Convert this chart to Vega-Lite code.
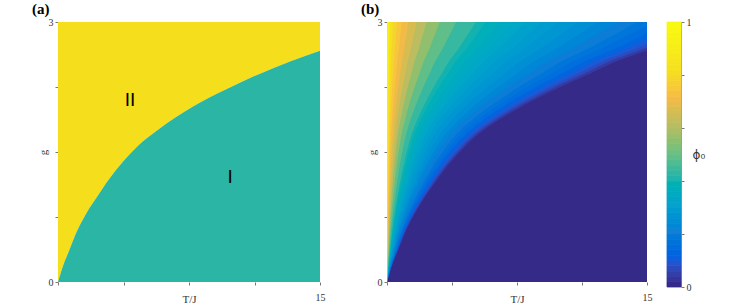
{
 "$schema": "https://vega.github.io/schema/vega-lite/v6.json",
 "background": "white",
 "padding": {"left": 32, "top": 2, "right": 5, "bottom": 2},
 "bounds": "flush",
 "spacing": 67,
 "config": {
  "view": {"stroke": null},
  "axis": {"labelFont": "Liberation Serif", "labelFontSize": 10, "labelColor": "#333", "titleFont": "Liberation Serif", "titleFontSize": 11, "titleFontWeight": "normal", "titleColor": "#333", "tickColor": "#777", "tickSize": 3, "domain": false, "grid": false, "labelPadding": 2, "labelFlush": false},
  "title": {"font": "Liberation Serif", "fontSize": 15, "fontWeight": "bold", "anchor": "start", "frame": "group", "color": "#000"}
 },
 "datasets": {
  "boundary": [{"T":0,"g":0},{"T":0.27,"g":0.177},{"T":0.65,"g":0.369},{"T":1.03,"g":0.562},{"T":1.41,"g":0.715},{"T":1.79,"g":0.85},{"T":2.18,"g":0.966},{"T":2.75,"g":1.139},{"T":3.32,"g":1.292},{"T":3.89,"g":1.427},{"T":4.85,"g":1.62},{"T":5.84,"g":1.775},{"T":7.73,"g":2.026},{"T":9.66,"g":2.227},{"T":11.56,"g":2.404},{"T":13.28,"g":2.545},{"T":15,"g":2.669}],
  "labels": [{"T":4.12,"g":2.1,"lab":"II"},{"T":9.85,"g":1.21,"lab":"I"}],
  "bands": [
   {"p":0,"g":0,"T":15},{"p":0,"g":3,"T":15},
   {"p":0.032,"g":0,"T":0},{"p":0.032,"g":0.18,"T":0.27},{"p":0.032,"g":0.37,"T":0.65},{"p":0.032,"g":0.56,"T":1.03},{"p":0.032,"g":0.85,"T":1.79},{"p":0.032,"g":1.14,"T":2.75},{"p":0.032,"g":1.43,"T":3.89},{"p":0.032,"g":1.79,"T":5.84},{"p":0.032,"g":2.02,"T":7.73},{"p":0.032,"g":2.22,"T":9.7},{"p":0.032,"g":2.39,"T":11.56},{"p":0.032,"g":2.55,"T":13.3},{"p":0.032,"g":2.67,"T":15},{"p":0.032,"g":2.8,"T":16.6},{"p":0.032,"g":3,"T":19},
   {"p":0.064,"g":0,"T":0},{"p":0.064,"g":0.18,"T":0.262},{"p":0.064,"g":0.37,"T":0.631},{"p":0.064,"g":0.56,"T":0.999},{"p":0.064,"g":0.85,"T":1.736},{"p":0.064,"g":1.14,"T":2.668},{"p":0.064,"g":1.43,"T":3.773},{"p":0.064,"g":1.79,"T":5.665},{"p":0.064,"g":2.02,"T":7.498},{"p":0.064,"g":2.22,"T":9.409},{"p":0.064,"g":2.39,"T":11.213},{"p":0.064,"g":2.55,"T":12.901},{"p":0.064,"g":2.67,"T":14.55},{"p":0.064,"g":2.8,"T":16.102},{"p":0.064,"g":3,"T":18.43},
   {"p":0.091,"g":0,"T":0},{"p":0.091,"g":0.18,"T":0.254},{"p":0.091,"g":0.37,"T":0.611},{"p":0.091,"g":0.56,"T":0.968},{"p":0.091,"g":0.85,"T":1.683},{"p":0.091,"g":1.14,"T":2.585},{"p":0.091,"g":1.43,"T":3.657},{"p":0.091,"g":1.79,"T":5.49},{"p":0.091,"g":2.02,"T":7.266},{"p":0.091,"g":2.22,"T":9.118},{"p":0.091,"g":2.39,"T":10.866},{"p":0.091,"g":2.55,"T":12.502},{"p":0.091,"g":2.67,"T":14.1},{"p":0.091,"g":2.8,"T":15.604},{"p":0.091,"g":3,"T":17.86},
   {"p":0.12,"g":0,"T":0},{"p":0.12,"g":0.18,"T":0.243},{"p":0.12,"g":0.37,"T":0.585},{"p":0.12,"g":0.56,"T":0.927},{"p":0.12,"g":0.85,"T":1.611},{"p":0.12,"g":1.14,"T":2.475},{"p":0.12,"g":1.43,"T":3.501},{"p":0.12,"g":1.79,"T":5.256},{"p":0.12,"g":2.02,"T":6.957},{"p":0.12,"g":2.22,"T":8.73},{"p":0.12,"g":2.39,"T":10.404},{"p":0.12,"g":2.55,"T":11.97},{"p":0.12,"g":2.67,"T":13.5},{"p":0.12,"g":2.8,"T":14.94},{"p":0.12,"g":3,"T":17.1},
   {"p":0.144,"g":0,"T":0},{"p":0.144,"g":0.18,"T":0.232},{"p":0.144,"g":0.37,"T":0.559},{"p":0.144,"g":0.56,"T":0.886},{"p":0.144,"g":0.85,"T":1.539},{"p":0.144,"g":1.14,"T":2.365},{"p":0.144,"g":1.43,"T":3.345},{"p":0.144,"g":1.79,"T":5.022},{"p":0.144,"g":2.02,"T":6.648},{"p":0.144,"g":2.22,"T":8.342},{"p":0.144,"g":2.39,"T":9.942},{"p":0.144,"g":2.55,"T":11.438},{"p":0.144,"g":2.67,"T":12.9},{"p":0.144,"g":2.8,"T":14.276},{"p":0.144,"g":3,"T":16.34},
   {"p":0.169,"g":0,"T":0},{"p":0.169,"g":0.18,"T":0.219},{"p":0.169,"g":0.37,"T":0.527},{"p":0.169,"g":0.56,"T":0.834},{"p":0.169,"g":0.85,"T":1.45},{"p":0.169,"g":1.14,"T":2.228},{"p":0.169,"g":1.43,"T":3.151},{"p":0.169,"g":1.79,"T":4.73},{"p":0.169,"g":2.02,"T":6.261},{"p":0.169,"g":2.22,"T":7.857},{"p":0.169,"g":2.39,"T":9.364},{"p":0.169,"g":2.55,"T":10.773},{"p":0.169,"g":2.67,"T":12.15},{"p":0.169,"g":2.8,"T":13.446},{"p":0.169,"g":3,"T":15.39},
   {"p":0.192,"g":0,"T":0},{"p":0.192,"g":0.18,"T":0.205},{"p":0.192,"g":0.37,"T":0.494},{"p":0.192,"g":0.56,"T":0.783},{"p":0.192,"g":0.85,"T":1.36},{"p":0.192,"g":1.14,"T":2.09},{"p":0.192,"g":1.43,"T":2.956},{"p":0.192,"g":1.79,"T":4.438},{"p":0.192,"g":2.02,"T":5.875},{"p":0.192,"g":2.22,"T":7.372},{"p":0.192,"g":2.39,"T":8.786},{"p":0.192,"g":2.55,"T":10.108},{"p":0.192,"g":2.67,"T":11.4},{"p":0.192,"g":2.8,"T":12.616},{"p":0.192,"g":3,"T":14.44},
   {"p":0.218,"g":0,"T":0},{"p":0.218,"g":0.18,"T":0.189},{"p":0.218,"g":0.37,"T":0.455},{"p":0.218,"g":0.56,"T":0.721},{"p":0.218,"g":0.85,"T":1.253},{"p":0.218,"g":1.14,"T":1.925},{"p":0.218,"g":1.43,"T":2.723},{"p":0.218,"g":1.79,"T":4.088},{"p":0.218,"g":2.02,"T":5.411},{"p":0.218,"g":2.22,"T":6.79},{"p":0.218,"g":2.39,"T":8.092},{"p":0.218,"g":2.55,"T":9.31},{"p":0.218,"g":2.67,"T":10.5},{"p":0.218,"g":2.8,"T":11.62},{"p":0.218,"g":3,"T":13.3},
   {"p":0.244,"g":0,"T":0},{"p":0.244,"g":0.18,"T":0.173},{"p":0.244,"g":0.37,"T":0.416},{"p":0.244,"g":0.56,"T":0.659},{"p":0.244,"g":0.85,"T":1.146},{"p":0.244,"g":1.14,"T":1.76},{"p":0.244,"g":1.43,"T":2.49},{"p":0.244,"g":1.79,"T":3.738},{"p":0.244,"g":2.02,"T":4.947},{"p":0.244,"g":2.22,"T":6.208},{"p":0.244,"g":2.39,"T":7.398},{"p":0.244,"g":2.55,"T":8.512},{"p":0.244,"g":2.67,"T":9.6},{"p":0.244,"g":2.8,"T":10.624},{"p":0.244,"g":3,"T":12.16},
   {"p":0.265,"g":0,"T":0},{"p":0.265,"g":0.18,"T":0.157},{"p":0.265,"g":0.37,"T":0.377},{"p":0.265,"g":0.56,"T":0.597},{"p":0.265,"g":0.85,"T":1.038},{"p":0.265,"g":1.14,"T":1.595},{"p":0.265,"g":1.43,"T":2.256},{"p":0.265,"g":1.79,"T":3.387},{"p":0.265,"g":2.02,"T":4.483},{"p":0.265,"g":2.22,"T":5.626},{"p":0.265,"g":2.39,"T":6.705},{"p":0.265,"g":2.55,"T":7.714},{"p":0.265,"g":2.67,"T":8.7},{"p":0.265,"g":2.8,"T":9.628},{"p":0.265,"g":3,"T":11.02},
   {"p":0.284,"g":0,"T":0},{"p":0.284,"g":0.18,"T":0.14},{"p":0.284,"g":0.37,"T":0.338},{"p":0.284,"g":0.56,"T":0.536},{"p":0.284,"g":0.85,"T":0.931},{"p":0.284,"g":1.14,"T":1.43},{"p":0.284,"g":1.43,"T":2.023},{"p":0.284,"g":1.79,"T":3.037},{"p":0.284,"g":2.02,"T":4.02},{"p":0.284,"g":2.22,"T":5.044},{"p":0.284,"g":2.39,"T":6.011},{"p":0.284,"g":2.55,"T":6.916},{"p":0.284,"g":2.67,"T":7.8},{"p":0.284,"g":2.8,"T":8.632},{"p":0.284,"g":3,"T":9.88},
   {"p":0.306,"g":0,"T":0},{"p":0.306,"g":0.18,"T":0.127},{"p":0.306,"g":0.37,"T":0.306},{"p":0.306,"g":0.56,"T":0.484},{"p":0.306,"g":0.85,"T":0.841},{"p":0.306,"g":1.14,"T":1.293},{"p":0.306,"g":1.43,"T":1.828},{"p":0.306,"g":1.79,"T":2.745},{"p":0.306,"g":2.02,"T":3.633},{"p":0.306,"g":2.22,"T":4.559},{"p":0.306,"g":2.39,"T":5.433},{"p":0.306,"g":2.55,"T":6.251},{"p":0.306,"g":2.67,"T":7.05},{"p":0.306,"g":2.8,"T":7.802},{"p":0.306,"g":3,"T":8.93},
   {"p":0.325,"g":0,"T":0},{"p":0.325,"g":0.18,"T":0.113},{"p":0.325,"g":0.37,"T":0.273},{"p":0.325,"g":0.56,"T":0.433},{"p":0.325,"g":0.85,"T":0.752},{"p":0.325,"g":1.14,"T":1.155},{"p":0.325,"g":1.43,"T":1.634},{"p":0.325,"g":1.79,"T":2.453},{"p":0.325,"g":2.02,"T":3.247},{"p":0.325,"g":2.22,"T":4.074},{"p":0.325,"g":2.39,"T":4.855},{"p":0.325,"g":2.55,"T":5.586},{"p":0.325,"g":2.67,"T":6.3},{"p":0.325,"g":2.8,"T":6.972},{"p":0.325,"g":3,"T":7.98},
   {"p":0.345,"g":0,"T":0},{"p":0.345,"g":0.18,"T":0.103},{"p":0.345,"g":0.37,"T":0.247},{"p":0.345,"g":0.56,"T":0.391},{"p":0.345,"g":0.85,"T":0.68},{"p":0.345,"g":1.14,"T":1.045},{"p":0.345,"g":1.43,"T":1.478},{"p":0.345,"g":1.79,"T":2.219},{"p":0.345,"g":2.02,"T":2.937},{"p":0.345,"g":2.22,"T":3.686},{"p":0.345,"g":2.39,"T":4.393},{"p":0.345,"g":2.55,"T":5.054},{"p":0.345,"g":2.67,"T":5.7},{"p":0.345,"g":2.8,"T":6.308},{"p":0.345,"g":3,"T":7.22},
   {"p":0.366,"g":0,"T":0},{"p":0.366,"g":0.18,"T":0.092},{"p":0.366,"g":0.37,"T":0.221},{"p":0.366,"g":0.56,"T":0.35},{"p":0.366,"g":0.85,"T":0.609},{"p":0.366,"g":1.14,"T":0.935},{"p":0.366,"g":1.43,"T":1.323},{"p":0.366,"g":1.79,"T":1.986},{"p":0.366,"g":2.02,"T":2.628},{"p":0.366,"g":2.22,"T":3.298},{"p":0.366,"g":2.39,"T":3.93},{"p":0.366,"g":2.55,"T":4.522},{"p":0.366,"g":2.67,"T":5.1},{"p":0.366,"g":2.8,"T":5.644},{"p":0.366,"g":3,"T":6.46},
   {"p":0.389,"g":0,"T":0},{"p":0.389,"g":0.18,"T":0.081},{"p":0.389,"g":0.37,"T":0.195},{"p":0.389,"g":0.56,"T":0.309},{"p":0.389,"g":0.85,"T":0.537},{"p":0.389,"g":1.14,"T":0.825},{"p":0.389,"g":1.43,"T":1.167},{"p":0.389,"g":1.79,"T":1.752},{"p":0.389,"g":2.02,"T":2.319},{"p":0.389,"g":2.22,"T":2.91},{"p":0.389,"g":2.39,"T":3.468},{"p":0.389,"g":2.55,"T":3.99},{"p":0.389,"g":2.67,"T":4.5},{"p":0.389,"g":2.8,"T":4.98},{"p":0.389,"g":3,"T":5.7},
   {"p":0.427,"g":0,"T":0},{"p":0.427,"g":0.18,"T":0.073},{"p":0.427,"g":0.37,"T":0.176},{"p":0.427,"g":0.56,"T":0.278},{"p":0.427,"g":0.85,"T":0.483},{"p":0.427,"g":1.14,"T":0.743},{"p":0.427,"g":1.43,"T":1.05},{"p":0.427,"g":1.79,"T":1.577},{"p":0.427,"g":2.02,"T":2.087},{"p":0.427,"g":2.22,"T":2.619},{"p":0.427,"g":2.39,"T":3.121},{"p":0.427,"g":2.55,"T":3.591},{"p":0.427,"g":2.67,"T":4.05},{"p":0.427,"g":2.8,"T":4.482},{"p":0.427,"g":3,"T":5.13},
   {"p":0.482,"g":0,"T":0},{"p":0.482,"g":0.18,"T":0.057},{"p":0.482,"g":0.37,"T":0.137},{"p":0.482,"g":0.56,"T":0.216},{"p":0.482,"g":0.85,"T":0.376},{"p":0.482,"g":1.14,"T":0.578},{"p":0.482,"g":1.43,"T":0.817},{"p":0.482,"g":1.79,"T":1.226},{"p":0.482,"g":2.02,"T":1.623},{"p":0.482,"g":2.22,"T":2.037},{"p":0.482,"g":2.39,"T":2.428},{"p":0.482,"g":2.55,"T":2.793},{"p":0.482,"g":2.67,"T":3.15},{"p":0.482,"g":2.8,"T":3.486},{"p":0.482,"g":3,"T":3.99},
   {"p":0.547,"g":0,"T":0},{"p":0.547,"g":0.18,"T":0.043},{"p":0.547,"g":0.37,"T":0.104},{"p":0.547,"g":0.56,"T":0.165},{"p":0.547,"g":0.85,"T":0.286},{"p":0.547,"g":1.14,"T":0.44},{"p":0.547,"g":1.43,"T":0.622},{"p":0.547,"g":1.79,"T":0.934},{"p":0.547,"g":2.02,"T":1.237},{"p":0.547,"g":2.22,"T":1.552},{"p":0.547,"g":2.39,"T":1.85},{"p":0.547,"g":2.55,"T":2.128},{"p":0.547,"g":2.67,"T":2.4},{"p":0.547,"g":2.8,"T":2.656},{"p":0.547,"g":3,"T":3.04},
   {"p":0.607,"g":0,"T":0},{"p":0.607,"g":0.18,"T":0.032},{"p":0.607,"g":0.37,"T":0.078},{"p":0.607,"g":0.56,"T":0.124},{"p":0.607,"g":0.85,"T":0.215},{"p":0.607,"g":1.14,"T":0.33},{"p":0.607,"g":1.43,"T":0.467},{"p":0.607,"g":1.79,"T":0.701},{"p":0.607,"g":2.02,"T":0.928},{"p":0.607,"g":2.22,"T":1.164},{"p":0.607,"g":2.39,"T":1.387},{"p":0.607,"g":2.55,"T":1.596},{"p":0.607,"g":2.67,"T":1.8},{"p":0.607,"g":2.8,"T":1.992},{"p":0.607,"g":3,"T":2.28},
   {"p":0.654,"g":0,"T":0},{"p":0.654,"g":0.18,"T":0.024},{"p":0.654,"g":0.37,"T":0.059},{"p":0.654,"g":0.56,"T":0.093},{"p":0.654,"g":0.85,"T":0.161},{"p":0.654,"g":1.14,"T":0.248},{"p":0.654,"g":1.43,"T":0.35},{"p":0.654,"g":1.79,"T":0.526},{"p":0.654,"g":2.02,"T":0.696},{"p":0.654,"g":2.22,"T":0.873},{"p":0.654,"g":2.39,"T":1.04},{"p":0.654,"g":2.55,"T":1.197},{"p":0.654,"g":2.67,"T":1.35},{"p":0.654,"g":2.8,"T":1.494},{"p":0.654,"g":3,"T":1.71},
   {"p":0.697,"g":0,"T":0},{"p":0.697,"g":0.18,"T":0.018},{"p":0.697,"g":0.37,"T":0.042},{"p":0.697,"g":0.56,"T":0.067},{"p":0.697,"g":0.85,"T":0.116},{"p":0.697,"g":1.14,"T":0.179},{"p":0.697,"g":1.43,"T":0.253},{"p":0.697,"g":1.79,"T":0.38},{"p":0.697,"g":2.02,"T":0.502},{"p":0.697,"g":2.22,"T":0.631},{"p":0.697,"g":2.39,"T":0.751},{"p":0.697,"g":2.55,"T":0.865},{"p":0.697,"g":2.67,"T":0.975},{"p":0.697,"g":2.8,"T":1.079},{"p":0.697,"g":3,"T":1.235},
   {"p":0.735,"g":0,"T":0},{"p":0.735,"g":0.18,"T":0.012},{"p":0.735,"g":0.37,"T":0.029},{"p":0.735,"g":0.56,"T":0.046},{"p":0.735,"g":0.85,"T":0.081},{"p":0.735,"g":1.14,"T":0.124},{"p":0.735,"g":1.43,"T":0.175},{"p":0.735,"g":1.79,"T":0.263},{"p":0.735,"g":2.02,"T":0.348},{"p":0.735,"g":2.22,"T":0.437},{"p":0.735,"g":2.39,"T":0.52},{"p":0.735,"g":2.55,"T":0.599},{"p":0.735,"g":2.67,"T":0.675},{"p":0.735,"g":2.8,"T":0.747},{"p":0.735,"g":3,"T":0.855},
   {"p":0.774,"g":0,"T":0},{"p":0.774,"g":0.18,"T":0.008},{"p":0.774,"g":0.37,"T":0.02},{"p":0.774,"g":0.56,"T":0.031},{"p":0.774,"g":0.85,"T":0.054},{"p":0.774,"g":1.14,"T":0.083},{"p":0.774,"g":1.43,"T":0.117},{"p":0.774,"g":1.79,"T":0.175},{"p":0.774,"g":2.02,"T":0.232},{"p":0.774,"g":2.22,"T":0.291},{"p":0.774,"g":2.39,"T":0.347},{"p":0.774,"g":2.55,"T":0.399},{"p":0.774,"g":2.67,"T":0.45},{"p":0.774,"g":2.8,"T":0.498},{"p":0.774,"g":3,"T":0.57},
   {"p":0.816,"g":0,"T":0},{"p":0.816,"g":0.18,"T":0.005},{"p":0.816,"g":0.37,"T":0.012},{"p":0.816,"g":0.56,"T":0.019},{"p":0.816,"g":0.85,"T":0.032},{"p":0.816,"g":1.14,"T":0.05},{"p":0.816,"g":1.43,"T":0.07},{"p":0.816,"g":1.79,"T":0.105},{"p":0.816,"g":2.02,"T":0.139},{"p":0.816,"g":2.22,"T":0.175},{"p":0.816,"g":2.39,"T":0.208},{"p":0.816,"g":2.55,"T":0.239},{"p":0.816,"g":2.67,"T":0.27},{"p":0.816,"g":2.8,"T":0.299},{"p":0.816,"g":3,"T":0.342},
   {"p":0.9,"g":0,"T":0},{"p":0.9,"g":0.18,"T":0.002},{"p":0.9,"g":0.37,"T":0.005},{"p":0.9,"g":0.56,"T":0.008},{"p":0.9,"g":0.85,"T":0.014},{"p":0.9,"g":1.14,"T":0.022},{"p":0.9,"g":1.43,"T":0.031},{"p":0.9,"g":1.79,"T":0.047},{"p":0.9,"g":2.02,"T":0.062},{"p":0.9,"g":2.22,"T":0.078},{"p":0.9,"g":2.39,"T":0.092},{"p":0.9,"g":2.55,"T":0.106},{"p":0.9,"g":2.67,"T":0.12},{"p":0.9,"g":2.8,"T":0.133},{"p":0.9,"g":3,"T":0.152}
  ],
  "cbar": [{"v":0,"v2":0.02},{"v":0.02,"v2":0.04},{"v":0.04,"v2":0.06},{"v":0.06,"v2":0.08},{"v":0.08,"v2":0.1},{"v":0.1,"v2":0.12},{"v":0.12,"v2":0.14},{"v":0.14,"v2":0.16},{"v":0.16,"v2":0.18},{"v":0.18,"v2":0.2},{"v":0.2,"v2":0.22},{"v":0.22,"v2":0.24},{"v":0.24,"v2":0.26},{"v":0.26,"v2":0.28},{"v":0.28,"v2":0.3},{"v":0.3,"v2":0.32},{"v":0.32,"v2":0.34},{"v":0.34,"v2":0.36},{"v":0.36,"v2":0.38},{"v":0.38,"v2":0.4},{"v":0.4,"v2":0.42},{"v":0.42,"v2":0.44},{"v":0.44,"v2":0.46},{"v":0.46,"v2":0.48},{"v":0.48,"v2":0.5},{"v":0.5,"v2":0.52},{"v":0.52,"v2":0.54},{"v":0.54,"v2":0.56},{"v":0.56,"v2":0.58},{"v":0.58,"v2":0.6},{"v":0.6,"v2":0.62},{"v":0.62,"v2":0.64},{"v":0.64,"v2":0.66},{"v":0.66,"v2":0.68},{"v":0.68,"v2":0.7},{"v":0.7,"v2":0.72},{"v":0.72,"v2":0.74},{"v":0.74,"v2":0.76},{"v":0.76,"v2":0.78},{"v":0.78,"v2":0.8},{"v":0.8,"v2":0.82},{"v":0.82,"v2":0.84},{"v":0.84,"v2":0.86},{"v":0.86,"v2":0.88},{"v":0.88,"v2":0.9},{"v":0.9,"v2":0.92},{"v":0.92,"v2":0.94},{"v":0.94,"v2":0.96},{"v":0.96,"v2":0.98},{"v":0.98,"v2":1}]
 },
 "hconcat": [
  {
   "width": 262, "height": 260,
   "title": {"text": "(a)", "dx": -26, "offset": 0},
   "data": {"name": "boundary"},
   "layer": [
    {"mark": {"type": "area", "color": "#f5df1d", "clip": true, "interpolate": "monotone"},
     "encoding": {
      "x": {"field": "T", "type": "quantitative", "scale": {"domain": [0, 15], "nice": false, "zero": false},
            "axis": {"values": [0, 3.75, 7.5, 11.25, 15], "labelExpr": "datum.value == 15 ? '15' : ''", "title": "T/J", "labelPadding": 7, "titlePadding": -9}},
      "y": {"field": "g", "type": "quantitative", "scale": {"domain": [0, 3], "nice": false},
            "axis": {"values": [0, 0.75, 1.5, 2.25, 3], "labelExpr": "datum.value == 0 ? '0' : datum.value == 3 ? '3' : ''", "title": "g", "titlePadding": 0}},
      "y2": {"datum": 3}
     }},
    {"mark": {"type": "area", "color": "#2bb5a4", "clip": true, "interpolate": "monotone"},
     "encoding": {
      "x": {"field": "T", "type": "quantitative"},
      "y": {"field": "g", "type": "quantitative"},
      "y2": {"datum": 0}
     }},
    {"data": {"name": "labels"},
     "mark": {"type": "text", "font": "Liberation Sans", "fontSize": 19, "color": "#000", "align": "center", "baseline": "middle"},
     "encoding": {
      "x": {"field": "T", "type": "quantitative"},
      "y": {"field": "g", "type": "quantitative"},
      "text": {"field": "lab"}
     }}
   ]
  },
  {
   "bounds": "flush",
   "spacing": 20,
   "hconcat": [
    {
     "width": 260, "height": 260,
     "title": {"text": "(b)", "dx": -26, "offset": 0},
     "data": {"name": "bands"},
     "mark": {"type": "area", "orient": "horizontal", "clip": true, "interpolate": "monotone"},
     "encoding": {
      "y": {"field": "g", "type": "quantitative", "scale": {"domain": [0, 3], "nice": false},
            "axis": {"values": [0, 0.75, 1.5, 2.25, 3], "labelExpr": "datum.value == 0 ? '0' : datum.value == 3 ? '3' : ''", "title": "g", "titlePadding": 0}},
      "x": {"field": "T", "type": "quantitative", "stack": null, "scale": {"domain": [0, 15], "nice": false, "zero": false},
            "axis": {"values": [0, 3.75, 7.5, 11.25, 15], "labelExpr": "datum.value == 15 ? '15' : ''", "title": "T/J", "labelPadding": 7, "titlePadding": -9}},
      "x2": {"datum": 0},
      "color": {"field": "p", "type": "quantitative", "legend": null,
                "scale": {"domain": [0, 1], "range": ["#352a87", "#0a5fdf", "#137fd6", "#06a1cd", "#21b4ac", "#6ebf81", "#b9bd62", "#f4ba47", "#f5de21", "#f7ee18", "#f9fb0e"]}},
      "detail": {"field": "p", "type": "quantitative"}
     }
    },
    {
     "width": 14, "height": 265,
     "data": {"name": "cbar"},
     "mark": {"type": "rect", "strokeWidth": 0.8},
     "encoding": {
      "y": {"field": "v", "type": "quantitative", "scale": {"domain": [0, 1], "nice": false},
            "axis": {"orient": "right", "values": [0, 0.2, 0.4, 0.6, 0.8, 1], "labelExpr": "datum.value == 0 ? '0' : datum.value == 1 ? '1' : ''", "title": "ϕ₀", "titleFont": "DejaVu Sans", "titleFontSize": 12, "titleAngle": 0, "titleAlign": "left", "titleBaseline": "middle", "titlePadding": 1, "domain": true, "domainColor": "#999"}},
      "y2": {"field": "v2"},
      "color": {"field": "v", "type": "quantitative", "legend": null,
                "scale": {"domain": [0, 1], "range": ["#352a87", "#0a5fdf", "#137fd6", "#06a1cd", "#21b4ac", "#6ebf81", "#b9bd62", "#f4ba47", "#f5de21", "#f7ee18", "#f9fb0e"]}},
      "stroke": {"field": "v", "type": "quantitative", "legend": null,
                "scale": {"domain": [0, 1], "range": ["#352a87", "#0a5fdf", "#137fd6", "#06a1cd", "#21b4ac", "#6ebf81", "#b9bd62", "#f4ba47", "#f5de21", "#f7ee18", "#f9fb0e"]}}
     }
    }
   ]
  }
 ]
}
